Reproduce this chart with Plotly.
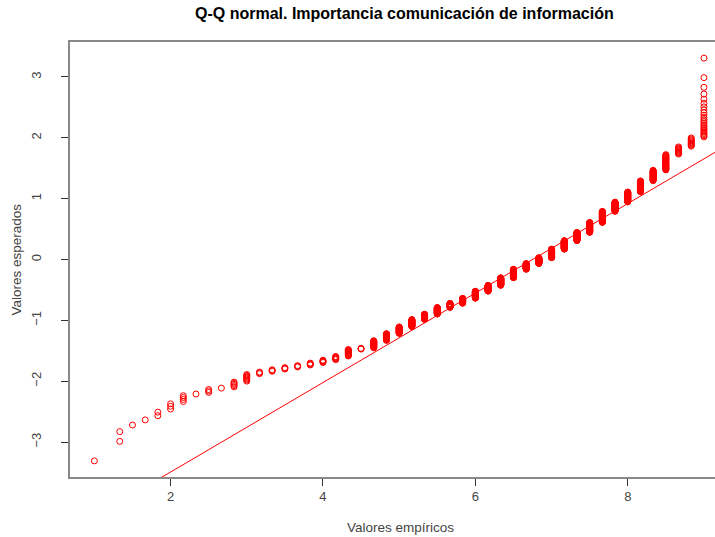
import math
import statistics
import plotly.graph_objects as go

# Distinct empirical values (x) and how many observations take each value
values = [1.0, 1.333, 1.5, 1.667, 1.833, 2.0, 2.167, 2.333, 2.5, 2.667, 2.833,
          3.0, 3.167, 3.333, 3.5, 3.667, 3.833, 4.0, 4.167, 4.333, 4.5, 4.667,
          4.833, 5.0, 5.167, 5.333, 5.5, 5.667, 5.833, 6.0, 6.167, 6.333, 6.5,
          6.667, 6.833, 7.0, 7.167, 7.333, 7.5, 7.667, 7.833, 8.0, 8.167, 8.333,
          8.5, 8.667, 8.833, 9.0]
counts = [1, 2, 1, 1, 2, 3, 4, 1, 3, 1, 5,
          8, 3, 3, 3, 3, 4, 5, 7, 15, 3, 20,
          22, 24, 30, 24, 33, 22, 28, 42, 37, 50, 58,
          40, 41, 60, 58, 54, 61, 61, 45, 42, 38, 29,
          31, 11, 10, 24]

title = "Q-Q normal. Importancia comunicación de información"
x_title = "Valores empíricos"
y_title = "Valores esperados"
x_ticks = [2, 4, 6, 8]
y_ticks = [-3, -2, -1, 0, 1, 2, 3]

# Build sample, compute theoretical normal quantiles (R qqnorm / ppoints)
sample = []
for v, c in zip(values, counts):
    sample += [v] * c
sample.sort()
n = len(sample)
nd = statistics.NormalDist()
a = 0.5 if n > 10 else 3 / 8
theo = [nd.inv_cdf((i + 1 - a) / (n + 1 - 2 * a)) for i in range(n)]

def q7(data, p):
    h = (len(data) - 1) * p
    lo = math.floor(h)
    hi = min(lo + 1, len(data) - 1)
    return data[lo] + (h - lo) * (data[hi] - data[lo])

# qqline through quartiles (datax = TRUE)
xq = [q7(sample, 0.25), q7(sample, 0.75)]
yq = [nd.inv_cdf(0.25), nd.inv_cdf(0.75)]
slope = (yq[1] - yq[0]) / (xq[1] - xq[0])
intercept = yq[0] - slope * xq[0]

xmin, xmax = min(sample), max(sample)
xr = [xmin - 0.04 * (xmax - xmin), xmax + 0.04 * (xmax - xmin)]
ymin, ymax = min(theo), max(theo)
yr = [ymin - 0.04 * (ymax - ymin), ymax + 0.04 * (ymax - ymin)]

fig = go.Figure()
fig.add_trace(go.Scatter(
    x=sample, y=theo, mode="markers",
    marker=dict(symbol="circle-open", size=6, color="red", line=dict(width=1, color="red")),
    hoverinfo="skip", showlegend=False, cliponaxis=True))
fig.add_trace(go.Scatter(
    x=xr, y=[intercept + slope * v for v in xr], mode="lines",
    line=dict(color="red", width=1), hoverinfo="skip", showlegend=False))

font = "Liberation Sans, Arial, Helvetica, sans-serif"
fig.update_layout(
    width=715, height=537,
    margin=dict(l=70, r=0, t=42, b=60),
    paper_bgcolor="white", plot_bgcolor="white",
    font=dict(family=font, size=13, color="#333"),
    xaxis=dict(range=[xr[0], 9.145], tickvals=x_ticks, ticks="outside", ticklen=7,
               tickcolor="#333", showgrid=False, zeroline=False, showline=True,
               linecolor="#888", linewidth=1.5, mirror=True,
               tickfont=dict(size=13, color="#444")),
    yaxis=dict(range=yr, tickvals=y_ticks, ticks="outside", ticklen=7,
               tickcolor="#333", showgrid=False, zeroline=False, showline=True,
               linecolor="#888", linewidth=1.5, tickangle=-90, ticklabelstandoff=15,
               tickfont=dict(size=13, color="#444")),
    annotations=[
        dict(text="<b>" + title + "</b>", x=0.519, y=1, xref="paper", yref="paper",
             xanchor="center", yanchor="middle", yshift=29, showarrow=False,
             font=dict(size=16, color="black", family=font)),
        dict(text=x_title, x=0.513, y=0, xref="paper", yref="paper",
             xanchor="center", yanchor="middle", yshift=-50,
             showarrow=False, font=dict(size=13.5, color="#444", family=font)),
        dict(text=y_title, x=0, y=0.5, xref="paper", yref="paper",
             xanchor="center", yanchor="middle", xshift=-54,
             textangle=-90, showarrow=False, font=dict(size=13.5, color="#444", family=font)),
    ],
)
fig.write_html("out.html", config={"displayModeBar": False},
               post_script="document.body.style.margin='0';document.body.style.overflow='hidden';")
